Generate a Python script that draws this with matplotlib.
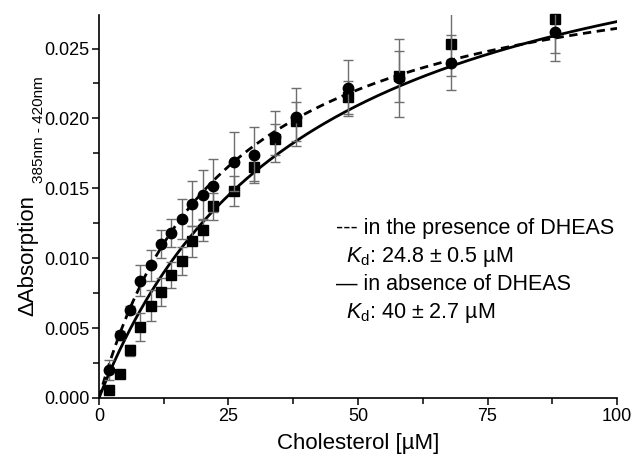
import matplotlib
matplotlib.use("Agg")
import matplotlib.pyplot as plt
import numpy as np
from matplotlib.ticker import MultipleLocator

plt.rcParams.update({
    "font.family": ["Liberation Sans", "DejaVu Sans"],
    "mathtext.fontset": "custom",
    "mathtext.rm": "Liberation Sans",
    "mathtext.it": "Liberation Sans:italic",
    "axes.linewidth": 1.2,
    "xtick.major.width": 1.1,
    "ytick.major.width": 1.1,
    "xtick.minor.width": 1.1,
    "ytick.minor.width": 1.1,
})

# ---- data ----
conc = [2, 4, 6, 8, 10, 12, 14, 16, 18, 20, 22, 26, 30, 34, 38, 48, 58, 68, 88]

# with DHEAS (circles, dashed fit)
abs_dheas = [0.0020, 0.0045, 0.0063, 0.0084, 0.0095, 0.0110, 0.0118, 0.0128, 0.0139,
             0.0145, 0.0152, 0.0169, 0.0174, 0.0187, 0.0201, 0.0222, 0.0229, 0.0240, 0.0262]
err_dheas = [0.0007, 0.0003, 0.0003, 0.0011, 0.0011, 0.0010, 0.0010, 0.0014, 0.0016,
             0.0018, 0.0019, 0.0021, 0.0020, 0.0018, 0.0021, 0.0020, 0.0028, 0.0020, 0.0021]

# without DHEAS (squares, solid fit)
abs_ctrl = [0.00055, 0.0017, 0.0034, 0.0051, 0.0066, 0.0076, 0.0088, 0.0098, 0.0112,
            0.0120, 0.0137, 0.0148, 0.0165, 0.0185, 0.0198, 0.0215, 0.0230, 0.0253, 0.0271]
err_ctrl = [0.0003, 0.0002, 0.0004, 0.0010, 0.0011, 0.0010, 0.0009, 0.0010, 0.0011,
            0.0008, 0.0010, 0.0011, 0.0010, 0.0011, 0.0014, 0.0012, 0.0018, 0.0023, 0.0024]

# one-site binding fits, parameters from the legend / curve ends
kd_dheas, bmax_dheas = 24.8, 0.0330
kd_ctrl, bmax_ctrl = 40.0, 0.0377

fig = plt.figure(figsize=(6.32, 4.61), dpi=100)
ax = fig.add_axes([0.1566, 0.1367, 0.8197, 0.8308])

xfit = np.linspace(0, 100, 400)
ax.plot(xfit, bmax_dheas * xfit / (kd_dheas + xfit), color="black", lw=2.0,
        linestyle=(0, (3, 2)), zorder=3)
ax.plot(xfit, bmax_ctrl * xfit / (kd_ctrl + xfit), color="black", lw=2.0, zorder=3)

eb_ctrl = ax.errorbar(conc, abs_ctrl, yerr=err_ctrl, fmt="s", color="black", ms=6.5,
                      ecolor="#6e6e6e", elinewidth=1.0, capsize=3.5, capthick=1.0, zorder=4)
eb_dheas = ax.errorbar(conc, abs_dheas, yerr=err_dheas, fmt="o", color="black", ms=7.5,
                       ecolor="#6e6e6e", elinewidth=1.0, capsize=3.5, capthick=1.0, zorder=5)
# markers near the top edge stay whole, like in the original
eb_ctrl[0].set_clip_on(False)
eb_dheas[0].set_clip_on(False)

ax.set_xlim(0, 100)
ax.set_ylim(0, 0.0274)
ax.xaxis.set_major_locator(MultipleLocator(25))
ax.xaxis.set_minor_locator(MultipleLocator(12.5))
ax.yaxis.set_major_locator(MultipleLocator(0.005))
ax.yaxis.set_minor_locator(MultipleLocator(0.0025))
ax.yaxis.set_major_formatter(plt.FormatStrFormatter("%.3f"))
ax.tick_params(which="major", direction="out", length=5, labelsize=13, pad=2)
ax.tick_params(which="minor", direction="out", length=4.5)
ax.spines["top"].set_visible(False)
ax.spines["right"].set_visible(False)

ax.set_xlabel("Cholesterol [µM]", fontsize=16, labelpad=6)

# y label with its small subscript written as two pieces
fig.text(0.044, 0.445, "ΔAbsorption", rotation=90, fontsize=16, ha="center", va="center")
fig.text(0.061, 0.603, "385nm - 420nm", rotation=90, fontsize=11, ha="center", va="bottom")

tx = 0.457
ax.text(tx, 0.428, "--- in the presence of DHEAS", transform=ax.transAxes, fontsize=15.5)
ax.text(tx + 0.02, 0.355, r"$K_{\mathregular{d}}$: 24.8 ± 0.5 µM", transform=ax.transAxes, fontsize=15.5)
ax.text(tx, 0.281, "— in absence of DHEAS", transform=ax.transAxes, fontsize=15.5)
ax.text(tx + 0.02, 0.208, r"$K_{\mathregular{d}}$: 40 ± 2.7 µM", transform=ax.transAxes, fontsize=15.5)

fig.savefig("out.png", dpi=100)
